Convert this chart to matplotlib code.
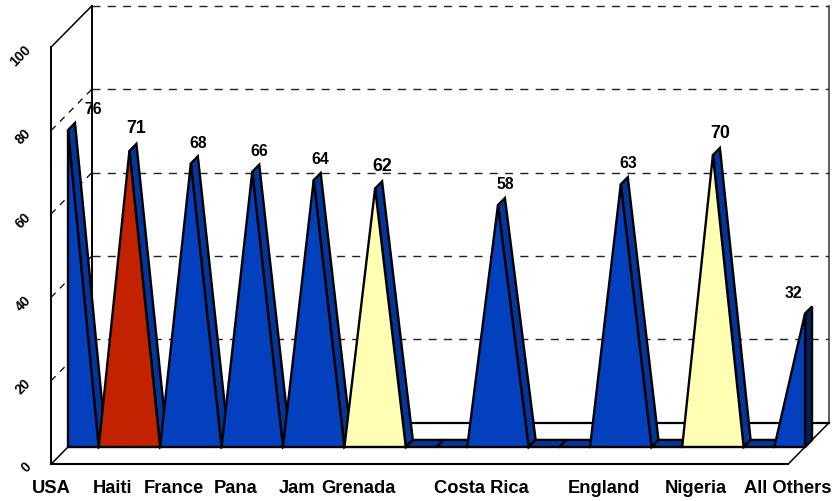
import numpy as np
import matplotlib
matplotlib.use('Agg')
import matplotlib.pyplot as plt
from matplotlib.patches import Polygon

plt.rcParams['font.family'] = ['Liberation Sans', 'DejaVu Sans']

# values along the category axis, zeros are the gaps between the spikes
values = [76, 0, 71, 0, 68, 0, 66, 0, 64, 0, 62, 0, 0, 0, 58, 0, 0, 0, 63, 0, 0, 70, 0, 0, 32]
tick_pos = [0, 2, 4, 6, 8, 10, 14, 18, 21, 24]
tick_names = ['USA', 'Haiti', 'France', 'Pana', 'Jam', 'Grenada', 'Costa Rica', 'England', 'Nigeria', 'All Others']
yticks = [0, 20, 40, 60, 80, 100]

BLUE = '#0340BE'
SIDE = '#02369A'
END = '#02205F'
RED = '#C22200'
YELLOW = '#FFFFB3'
colours = {2: RED, 10: YELLOW, 21: YELLOW}

# pixel scale of the plot
X0, Y0 = 68.0, 447.0
PX_X, PX_Y = 30.71, 4.17
WIDTH, HEIGHT = 833, 501

# oblique depth of the box in data units
BOX_DX, BOX_DY = 41 / PX_X, 41.5 / PX_Y
FRONT = -17 / 41.0       # front of the box, the series sits at depth 0
BACK = 24 / 41.0
SERIES_D = 7 / 41.0      # thickness of the series
LEFT, RIGHT = 0.0, 24.0
EDGE = 1.7


def proj(i, v, d=0.0):
    return i + d * BOX_DX, v + d * BOX_DY


fig = plt.figure(figsize=(WIDTH / 100, HEIGHT / 100), dpi=100)
ax = fig.add_axes([0, 0, 1, 1])
ax.set_xlim(-X0 / PX_X, (WIDTH - X0) / PX_X)
ax.set_ylim((Y0 - HEIGHT) / PX_Y, Y0 / PX_Y)
ax.axis('off')


def line(p, q, **kw):
    style = dict(color='black', lw=1.4, solid_capstyle='projecting', zorder=1)
    style.update(kw)
    ax.plot([p[0], q[0]], [p[1], q[1]], **style)


# gridlines on the back and side walls
for t in yticks[1:]:
    a = proj(LEFT, t, BACK)
    b = proj(RIGHT, t, BACK)
    line(a, b, lw=1.0, dashes=(5.8, 5.2), color='#222222')
    if t < 100:
        line(proj(LEFT, t, FRONT), a, lw=0.9, dashes=(5.2, 5))

# box outline
line(proj(LEFT, 0, BACK), proj(LEFT, 100, BACK))
line(proj(LEFT, 0, FRONT), proj(LEFT, 100, FRONT))
line(proj(LEFT, 100, FRONT), proj(LEFT, 100, BACK), lw=1.1)
line(proj(RIGHT, 0, BACK), proj(RIGHT, 100, BACK), color='#333333', lw=1.1)
line(proj(LEFT, 0, FRONT), proj(RIGHT, 0, FRONT), lw=1.5)
line(proj(LEFT, 0, BACK), proj(RIGHT, 0, BACK), lw=1.6)
line(proj(LEFT, 0, FRONT), proj(LEFT, 0, BACK), lw=1.1)
line(proj(RIGHT, 0, FRONT), proj(RIGHT, 0, BACK), lw=1.1)

n = len(values)

# top faces first, the front faces cover them
for i in range(n - 1):
    a, b = values[i], values[i + 1]
    if b > a:
        continue
    pts = [proj(i, a), proj(i + 1, b), proj(i + 1, b, SERIES_D), proj(i, a, SERIES_D)]
    ax.add_patch(Polygon(pts, fc=SIDE, ec='black', lw=EDGE, joinstyle='miter', zorder=3))

# closing face at the right end of the series
pts = [proj(n - 1, 0), proj(n - 1, values[-1]), proj(n - 1, values[-1], SERIES_D), proj(n - 1, 0, SERIES_D)]
ax.add_patch(Polygon(pts, fc=END, ec='black', lw=EDGE, zorder=3))

# front faces
for i in range(n):
    if values[i] == 0:
        continue
    pts = []
    if i > 0:
        pts.append(proj(i - 1, 0))
    else:
        pts.append(proj(i, 0))
    pts.append(proj(i, values[i]))
    if i < n - 1:
        pts.append(proj(i + 1, 0))
    else:
        pts.append(proj(i, 0))
    ax.add_patch(Polygon(pts, fc=colours.get(i, BLUE), ec='black', lw=EDGE, joinstyle='miter', zorder=4))

# baseline of the series
line(proj(0, 0), proj(n - 1, 0), lw=1.3, zorder=5)

# category labels sit under the front edge of the floor
for p, name in zip(tick_pos, tick_names):
    x, _ = proj(p, 0, FRONT)
    ax.text(x, -9.9, name, ha='center', va='center', fontsize=13.2, fontweight='bold', color='black')

# value labels
big = {2, 10, 21}
for i in range(n):
    if values[i] == 0:
        continue
    x, y = proj(i, values[i], SERIES_D)
    dx = 0
    if i == 0:
        dx = 18 / PX_X
    if i == n - 1:
        dx = -19 / PX_X
    dy = 3.6 if i in big else 3.2
    if i == n - 1:
        dy = 3.0
    ax.text(x + dx, y + dy, str(values[i]), ha='center', va='center',
            fontsize=12.8 if i in big else 11.3, fontweight='bold', color='black', zorder=6)

# value axis labels are turned along the depth direction
for t in yticks:
    x, y = proj(LEFT, t, FRONT)
    ax.text(x - 22 / PX_X, y - 0.2, str(t), rotation=45, ha='right', va='center',
            fontsize=10, fontweight='bold', color='black', rotation_mode='anchor')

fig.savefig('out.png', dpi=100)
